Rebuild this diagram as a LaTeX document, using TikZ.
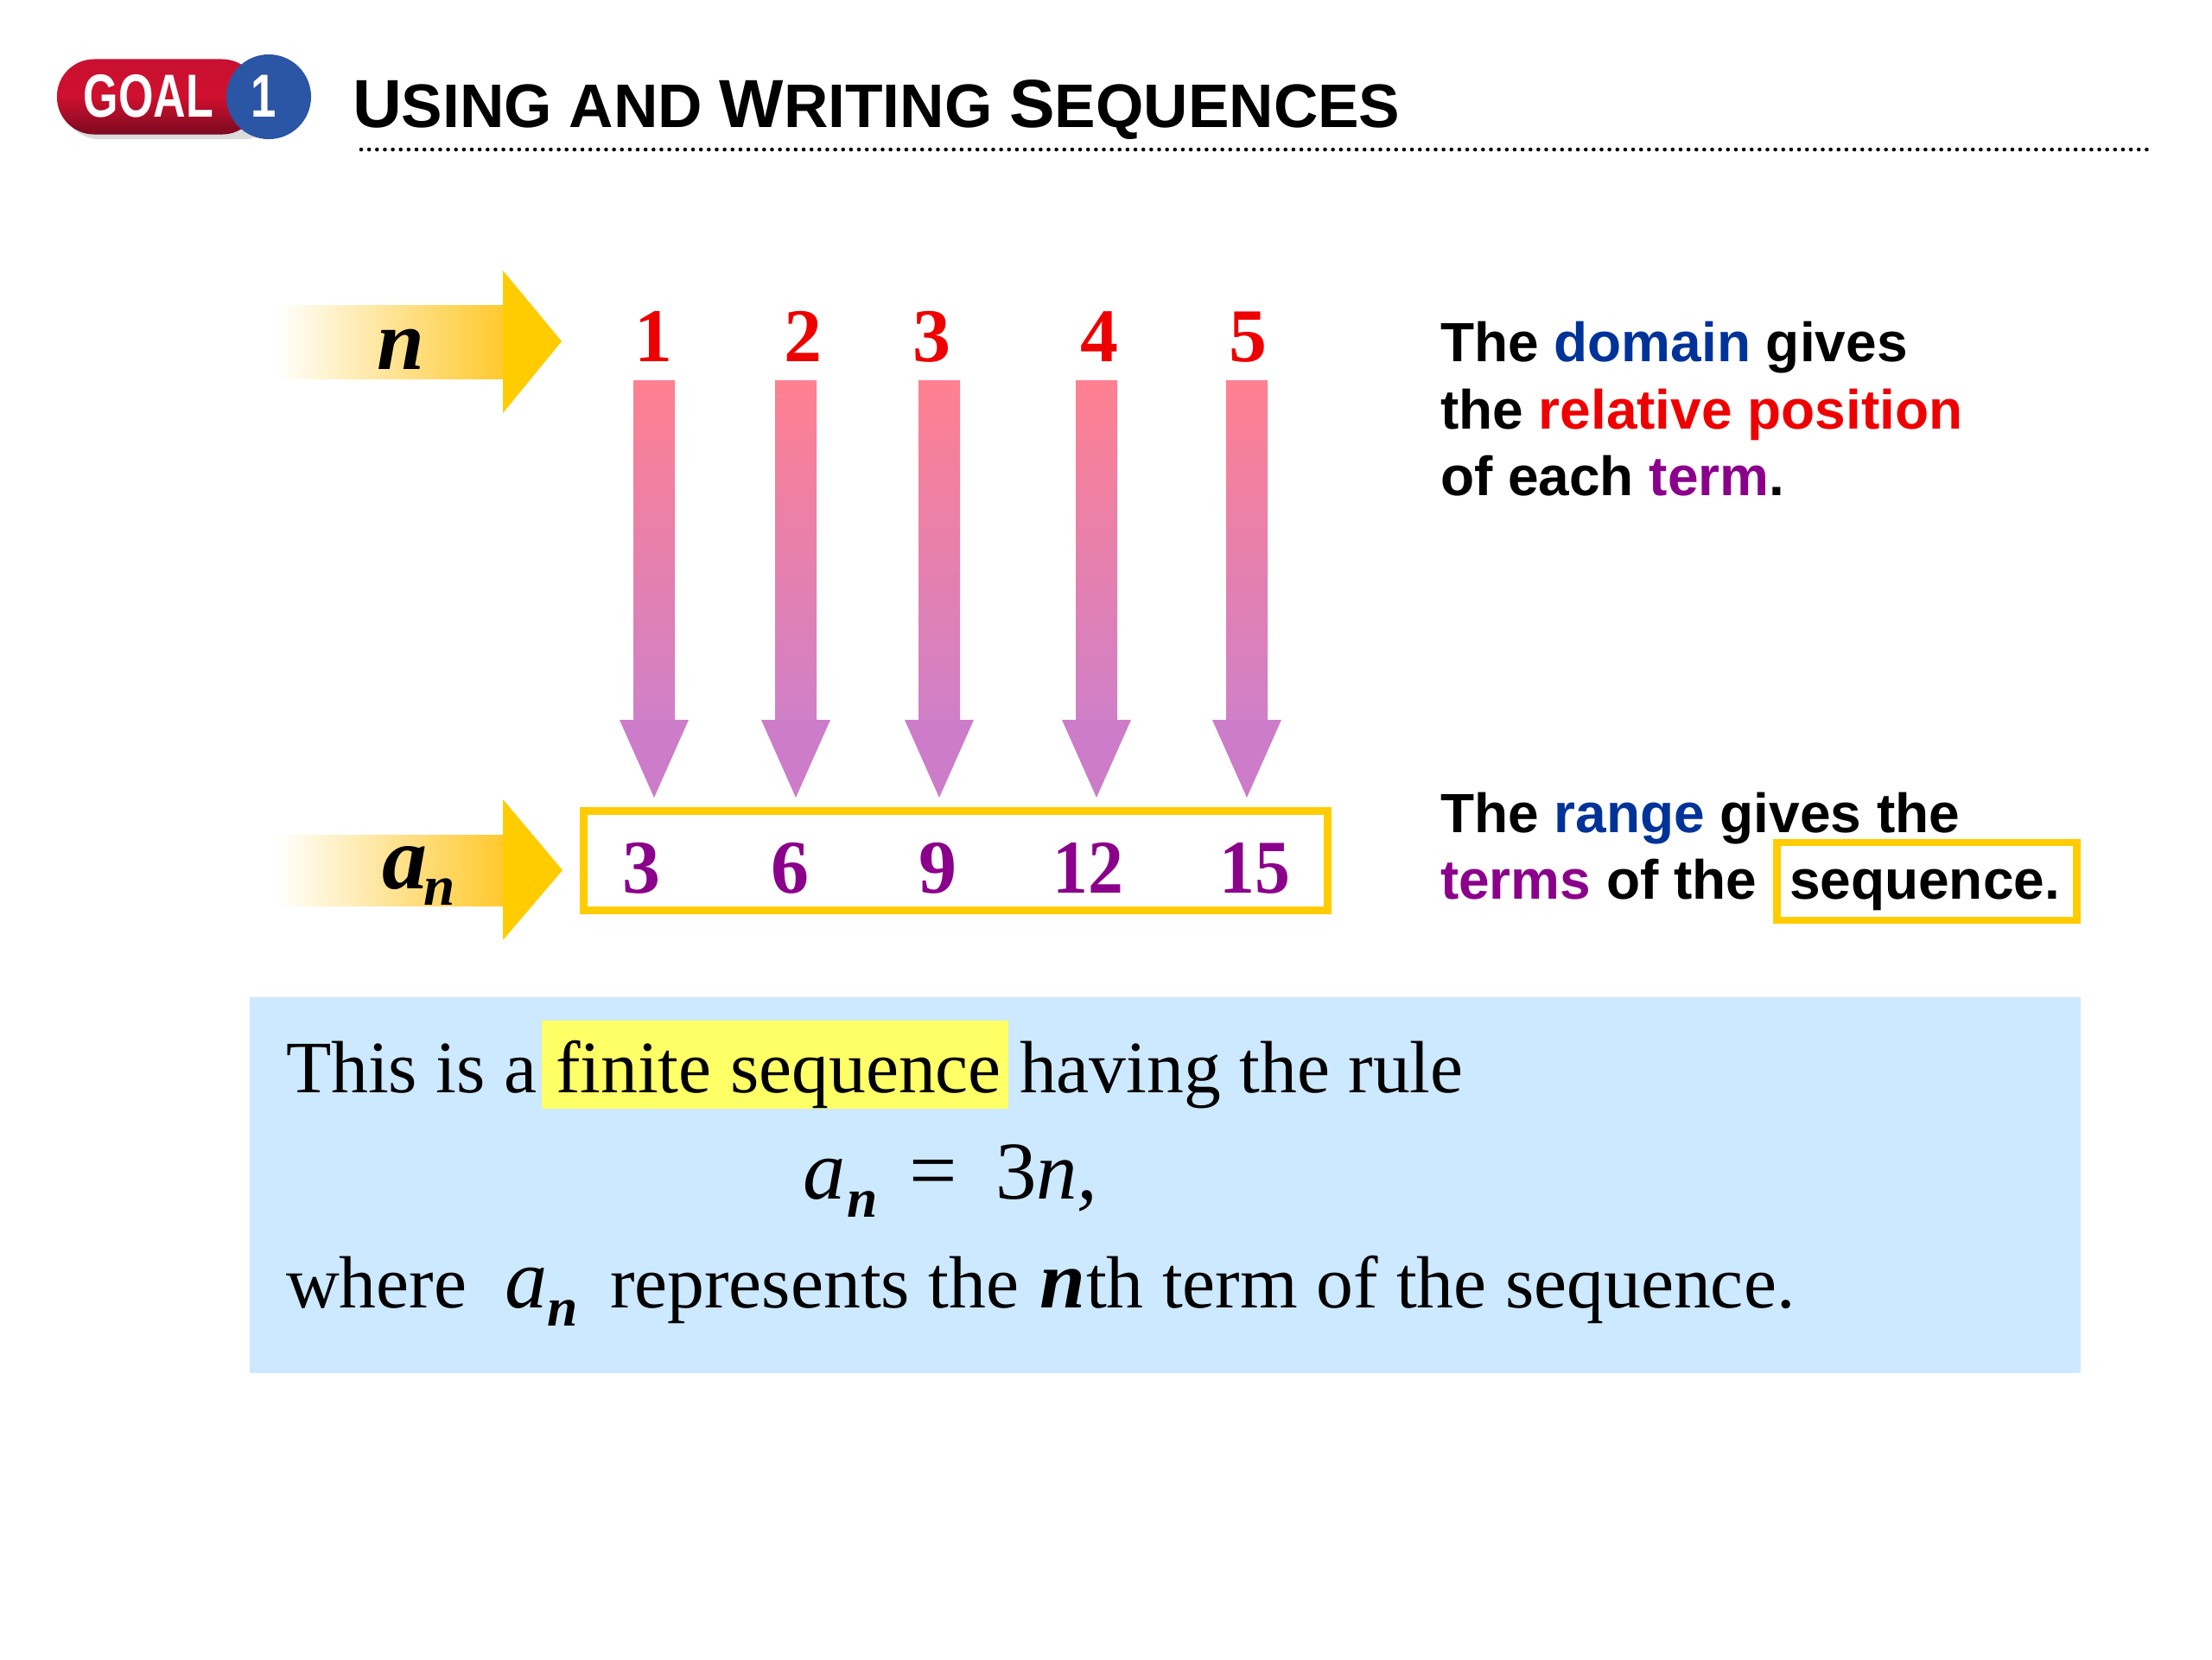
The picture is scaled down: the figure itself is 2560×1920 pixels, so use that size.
\documentclass[tikz,border=0pt]{standalone}
\usepackage{fontspec}
\setmainfont{Liberation Serif}
\setsansfont{Liberation Sans}
\definecolor{goldy}{HTML}{FFCC00}
\definecolor{fadegold}{HTML}{FFC92E}
\definecolor{domblue}{HTML}{003399}
\definecolor{posred}{HTML}{EE0000}
\definecolor{termpurple}{HTML}{8B008B}
\definecolor{panelblue}{HTML}{CCE9FF}
\definecolor{markyellow}{HTML}{FFFF66}
\definecolor{pinktop}{HTML}{FF8090}
\definecolor{pinklow}{HTML}{D080C8}
\definecolor{pinkhead}{HTML}{CC7CC8}
\definecolor{pilltop}{HTML}{C81030}
\definecolor{pillmid}{HTML}{D0102E}
\definecolor{pilllow}{HTML}{7A0A20}
\definecolor{badgeblue}{HTML}{2B55A5}
\usetikzlibrary{calc}
\newcommand{\fs}[1]{\fontsize{#1}{#1}\selectfont}
\newcommand{\capbig}[1]{{\fs{22.4}#1}}
% shaft with the shading, then a plain head
\newcommand{\dropper}[2]{
    \fill[top color=pinktop, bottom color=pinklow] ($(#1)+(-24,0)$) rectangle ($(#2)+(24,-90)$);
    \fill[pinkhead] ($(#2)+(-40,-90)$) -- ($(#2)+(40,-90)$) -- (#2) -- cycle;
}

\begin{document}
\begin{tikzpicture}[x=0.01cm, y=-0.01cm]
        \tikzstyle{every node}=[inner sep=0pt, outer sep=0pt]
        \tikzstyle{head}=[anchor=base west, font=\sffamily\bfseries\fs{20.25}]
        \tikzstyle{note}=[anchor=base west, font=\sffamily\bfseries\fs{18.2}]
        \tikzstyle{body}=[anchor=base west, font=\fs{24.35}]
        \tikzstyle{num}=[anchor=base, font=\bfseries\fs{25}]
        \tikzstyle{goldbox}=[draw=goldy, line width=2.5pt]
        \tikzstyle{fadearrow}=[left color=white, right color=fadegold]
        \path[use as bounding box, fill=white] (0,0) rectangle (2560,1920);

        % badge
        \fill[black!40, opacity=.35, rounded corners=.43cm] (72,74) rectangle (325,161);
        \node [rectangle, rounded corners=.43cm, minimum width=2.34cm, minimum height=.87cm,
            top color=pilltop, bottom color=pilllow, middle color=pillmid] (pill) at (183,112) {};
        \node [circle, minimum size=.98cm, fill=badgeblue] (badge) at (311,112) {};
        \node [anchor=base, text=white, font=\sffamily\bfseries\fs{20}] (goal) at (172,135) {\scalebox{.74}[1]{GOAL}};
        \node [anchor=base, text=white, font=\sffamily\bfseries\fs{20}] (one) at (305,135) {\scalebox{.75}[1]{1}};
        \node [head] (title) at (408,147) {\capbig{U}SING AND \capbig{W}RITING \capbig{S}EQUENCES};
        \coordinate (ruleL) at (418,173);
        \coordinate (ruleR) at (2489,173);
        \draw [line width=1.3pt, line cap=round, dash pattern=on 0pt off 2.6pt] (ruleL) -- (ruleR);

        % side arrows
        \fill[fadearrow] (320,353) rectangle (582,438);
        \fill[goldy] (582,313) -- (650,395) -- (582,478) -- cycle;
        \node [anchor=base, font=\bfseries\itshape\fs{28}] (nlabel) at (464,427) {n};
        \fill[fadearrow] (320,966) rectangle (582,1048);
        \fill[goldy] (582,925) -- (651,1007) -- (582,1088) -- cycle;
        \node [anchor=base west, font=\bfseries\itshape\fs{29.6}] (alabel) at (442,1028) {a};
        \node [anchor=base west, font=\bfseries\itshape\fs{18.5}] (asub) at (490,1047) {n};

        % positions
        \node [num, text=posred] (r1) at (756,418) {1};
        \node [num, text=posred] (r2) at (929,418) {2};
        \node [num, text=posred] (r3) at (1078,418) {3};
        \node [num, text=posred] (r4) at (1272,418) {4};
        \node [num, text=posred] (r5) at (1444,418) {5};

        % terms
        \node [goldbox, minimum width=8.61cm, minimum height=1.15cm] (terms) at (1106,996) {};
        \node [num, text=termpurple] (t1) at (742,1033) {3};
        \node [num, text=termpurple] (t2) at (914,1033) {6};
        \node [num, text=termpurple] (t3) at (1085,1033) {9};
        \node [num, text=termpurple] (t4) at (1259,1033) {\scalebox{.93}[1]{12}};
        \node [num, text=termpurple] (t5) at (1452,1033) {\scalebox{.93}[1]{15}};

        % arrows between them
        \coordinate (d1) at (757,440); \coordinate (e1) at (757,923);
        \coordinate (d2) at (921,440); \coordinate (e2) at (921,923);
        \coordinate (d3) at (1087,440); \coordinate (e3) at (1087,923);
        \coordinate (d4) at (1269,440); \coordinate (e4) at (1269,923);
        \coordinate (d5) at (1443,440); \coordinate (e5) at (1443,923);
        \dropper{d1}{e1}
        \dropper{d2}{e2}
        \dropper{d3}{e3}
        \dropper{d4}{e4}
        \dropper{d5}{e5}

        % notes on the right
        \node [note] (dom) at (1667,418) {The \textcolor{domblue}{domain} gives};
        \node [note] (rel) at (1667,496) {the \textcolor{posred}{relative position}};
        \node [note] (each) at (1667,573) {of each \textcolor{termpurple}{term}.};
        \node [note] (ran) at (1667,963) {The \textcolor{domblue}{range} gives the};
        \node [note] (tof) at (1667,1040) {\textcolor{termpurple}{terms} of the};
        \node [goldbox, minimum width=3.47cm, minimum height=.90cm] (seqbox) at (2230,1020) {};
        \node [note] (seq) at (2071,1040) {sequence.};

        % panel
        \node [fill=panelblue, minimum width=21.17cm, minimum height=4.35cm] (panel) at (1348.5,1371.5) {};
        \node [fill=markyellow, minimum width=5.4cm, minimum height=1.02cm] (mark) at (897,1232) {};
        \node [body] (l1a) at (331,1264) {This is a};
        \node [body] (l1b) at (643,1264) {finite sequence};
        \node [body] (l1c) at (1180,1264) {having the rule};
        \node [anchor=base west, font=\itshape\fs{28}] (ra) at (929,1387) {a};
        \node [anchor=base west, font=\bfseries\itshape\fs{18}] (rn) at (980,1408) {n};
        \node [anchor=base, font=\fs{28}] (req) at (1080,1387) {=};
        \node [anchor=base west, font=\fs{27}] (r3n) at (1152,1387) {3\textit{n,}};
        \node [body] (l3a) at (331,1513) {where};
        \node [anchor=base west, font=\itshape\fs{28}] (wa) at (584,1513) {a};
        \node [anchor=base west, font=\bfseries\itshape\fs{18}] (wn) at (633,1534) {n};
        \node [body] (l3b) at (706,1513) {represents the};
        \node [anchor=base west, font=\bfseries\itshape\fs{27}] (wnn) at (1203,1513) {n};
        \node [body] (l3c) at (1257,1513) {th term of the sequence.};
    \end{tikzpicture}
\end{document}
